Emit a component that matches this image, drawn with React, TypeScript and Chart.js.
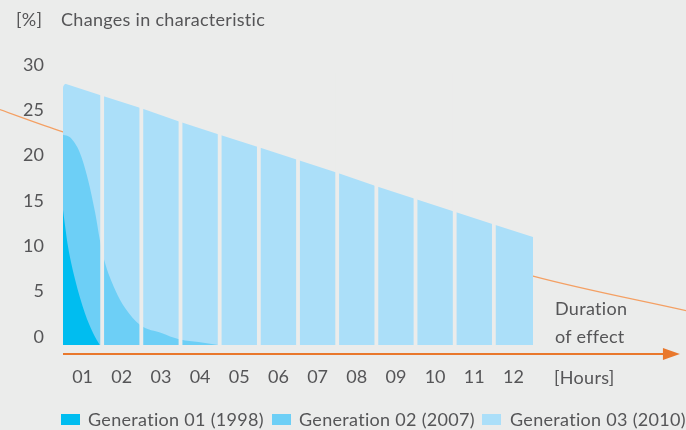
import React, { useEffect, useRef } from "react";
import { Chart, registerables } from "chart.js";

Chart.register(...registerables);

// ---- data ----
const hourLabels = ["01", "02", "03", "04", "05", "06", "07", "08", "09", "10", "11", "12"];
const yTicks = [0, 5, 10, 15, 20, 25, 30];

// Generation 03: top edge of the hourly columns, at the hour boundaries (0.5 .. 12.5)
const gen03X = [0.5, 1.5, 2.5, 3.5, 4.5, 5.5, 6.5, 7.5, 8.5, 9.5, 10.5, 11.5, 12.5];
const gen03Y = [28.9, 27.5, 26.1, 24.6, 23.2, 21.8, 20.4, 19.0, 17.5, 16.1, 14.7, 13.3, 11.9];

// Generation 02 decay curve
const gen02X = [0.5, 0.68, 0.93, 1.14, 1.32, 1.44, 1.55, 1.83, 2.08, 2.47, 3.03, 3.44, 4.13, 4.46];
const gen02Y = [23.2, 22.9, 21.2, 18.2, 14.6, 11.6, 9.4, 6.1, 4.1, 2.2, 1.3, 0.66, 0.22, 0];

// Generation 01 decay curve
const gen01X = [0.5, 0.56, 0.63, 0.81, 1.06, 1.27, 1.44];
const gen01Y = [14.9, 12.9, 10.8, 7.2, 3.5, 1.3, 0];

// orange trend line
const trendX = [-1.2, 0.5, 12.5, 16.5];
const trendY = [26.1, 23.5, 7.6, 3.7];

const seriesNames = ["Generation 01 (1998)", "Generation 02 (2007)", "Generation 03 (2010)"];
const seriesColors = ["#00bdf0", "#6dcff6", "#abdff9"];

const BG = "#ebeceb";
const TEXT = "#555557";
const FONT = "Lato, 'Open Sans', sans-serif";

const pts = (xs: number[], ys: number[]) => xs.map((x, i) => ({ x, y: ys[i] }));

export default function App() {
  const ref = useRef<HTMLCanvasElement | null>(null);

  useEffect(() => {
    if (!ref.current) return;

    const gapsAndArrow = {
      id: "gapsAndArrow",
      afterDatasetsDraw(chart: any) {
        const { ctx, scales } = chart;
        const xs = scales.x;
        const ys = scales.y;
        const y0 = ys.getPixelForValue(0);
        const top = chart.chartArea.top;
        ctx.save();
        ctx.fillStyle = BG;
        for (let k = 1; k < hourLabels.length; k++) {
          const px = xs.getPixelForValue(k + 0.5);
          ctx.fillRect(px - 1.9, top, 3.8, y0 - top + 0.5);
        }
        // rounded top-left corner of the first column
        const lx = xs.getPixelForValue(0.5);
        const ty = ys.getPixelForValue(gen03Y[0]);
        const r = 5;
        ctx.beginPath();
        ctx.moveTo(lx - 1, ty - 2);
        ctx.lineTo(lx + r, ty - 2);
        ctx.lineTo(lx + r, ty);
        ctx.arcTo(lx, ty, lx, ty + r, r);
        ctx.lineTo(lx - 1, ty + r);
        ctx.closePath();
        ctx.fill();
        // x axis arrow
        const ay = ys.getPixelForValue(-1);
        const xTip = xs.getPixelForValue(16.25);
        const xBase = xTip - 17;
        ctx.strokeStyle = "#e9782c";
        ctx.fillStyle = "#e9782c";
        ctx.lineWidth = 2;
        ctx.beginPath();
        ctx.moveTo(lx, ay);
        ctx.lineTo(xBase + 1, ay);
        ctx.stroke();
        ctx.beginPath();
        ctx.moveTo(xTip, ay);
        ctx.lineTo(xBase, ay - 6);
        ctx.lineTo(xBase, ay + 6);
        ctx.closePath();
        ctx.fill();
        ctx.restore();
      },
    };

    const chart = new Chart(ref.current, {
      type: "line",
      data: {
        datasets: [
          {
            label: seriesNames[0],
            data: pts(gen01X, gen01Y),
            backgroundColor: seriesColors[0],
            borderWidth: 0,
            fill: "origin",
            pointRadius: 0,
            cubicInterpolationMode: "monotone",
            order: 1,
          },
          {
            label: seriesNames[1],
            data: pts(gen02X, gen02Y),
            backgroundColor: seriesColors[1],
            borderWidth: 0,
            fill: "origin",
            pointRadius: 0,
            cubicInterpolationMode: "monotone",
            order: 2,
          },
          {
            label: seriesNames[2],
            data: pts(gen03X, gen03Y),
            backgroundColor: seriesColors[2],
            borderWidth: 0,
            fill: "origin",
            pointRadius: 0,
            tension: 0,
            order: 3,
          },
          {
            label: "trend",
            data: pts(trendX, trendY),
            borderColor: "#f4a064",
            borderWidth: 1.2,
            fill: false,
            pointRadius: 0,
            cubicInterpolationMode: "monotone",
            clip: false,
            order: 4,
          },
        ],
      },
      options: {
        animation: false,
        responsive: true,
        maintainAspectRatio: false,
        layout: { padding: { top: 73, left: 0, right: 0, bottom: 0 } },
        plugins: { legend: { display: false }, tooltip: { enabled: false }, title: { display: false } },
        scales: {
          x: {
            type: "linear",
            min: 0.5,
            max: 16.405,
            grid: { display: false, drawTicks: false },
            border: { display: false },
            afterBuildTicks: (s: any) => {
              s.ticks = hourLabels.map((_, i) => ({ value: i + 1 }));
            },
            afterFit: (s: any) => {
              s.height = 76;
            },
            ticks: {
              autoSkip: false,
              maxRotation: 0,
              padding: 12,
              color: TEXT,
              font: { family: FONT, size: 18 },
              callback: (v: any) => hourLabels[Math.round(Number(v)) - 1] ?? "",
            },
          },
          y: {
            type: "linear",
            min: -1,
            max: 30,
            grid: { display: false, drawTicks: false },
            border: { display: false },
            afterBuildTicks: (s: any) => {
              s.ticks = yTicks.map((v) => ({ value: v }));
            },
            afterFit: (s: any) => {
              s.width = 63;
            },
            ticks: {
              padding: 19,
              labelOffset: -8,
              color: TEXT,
              font: { family: FONT, size: 18 },
              callback: (v: any) => String(v),
            },
          },
        },
      },
      plugins: [gapsAndArrow],
    } as any);

    return () => chart.destroy();
  }, []);

  const txt = (s: string, left: number, top: number) => (
    <div
      style={{
        position: "absolute",
        left,
        top,
        fontFamily: FONT,
        fontSize: 18,
        lineHeight: "18px",
        letterSpacing: "0.3px",
        fontVariantLigatures: "none",
        fontFeatureSettings: '"liga" 0, "clig" 0',
        color: TEXT,
        whiteSpace: "nowrap",
      }}
    >
      {s}
    </div>
  );

  const legendBoxes = [61, 272, 482];
  const legendTexts = [88, 299, 510];

  return (
    <div style={{ position: "fixed", left: 0, top: 0, width: 686, height: 430, background: BG, overflow: "hidden" }}>
      <canvas ref={ref} style={{ position: "absolute", left: 0, top: 0 }} />
      {txt("[%]", 16, 10)}
      {txt("Changes in characteristic", 61, 10)}
      {txt("Duration", 555, 299)}
      {txt("of effect", 555, 327)}
      {txt("[Hours]", 554, 368)}
      {seriesNames.map((n, i) => (
        <React.Fragment key={n}>
          <div
            style={{
              position: "absolute",
              left: legendBoxes[i],
              top: 414,
              width: 19,
              height: 11,
              background: seriesColors[i],
            }}
          />
          {txt(n, legendTexts[i], 410)}
        </React.Fragment>
      ))}
    </div>
  );
}
